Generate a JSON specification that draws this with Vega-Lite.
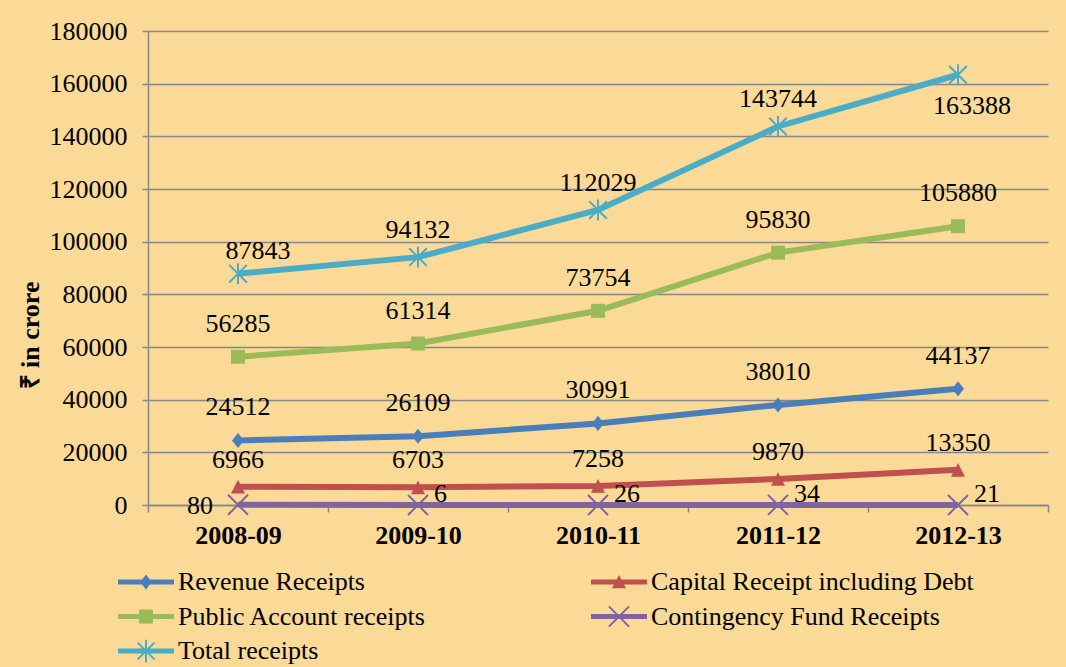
{
  "$schema": "https://vega.github.io/schema/vega-lite/v6.json",
  "width": 900,
  "height": 474,
  "autosize": "none",
  "padding": {"left": 148, "top": 31, "right": 18, "bottom": 162},
  "background": "#FADA96",
  "config": {
    "view": {"stroke": null},
    "font": "Liberation Serif",
    "text": {"font": "Liberation Serif", "fontSize": 26, "color": "#000000"}
  },
  "resolve": {"scale": {"shape": "independent", "fill": "independent"}},
  "data": {
    "values": [
      {"year": "2008-09", "series": "Revenue Receipts", "value": 24512},
      {"year": "2009-10", "series": "Revenue Receipts", "value": 26109},
      {"year": "2010-11", "series": "Revenue Receipts", "value": 30991},
      {"year": "2011-12", "series": "Revenue Receipts", "value": 38010},
      {"year": "2012-13", "series": "Revenue Receipts", "value": 44137},
      {"year": "2008-09", "series": "Capital Receipt including Debt", "value": 6966},
      {"year": "2009-10", "series": "Capital Receipt including Debt", "value": 6703},
      {"year": "2010-11", "series": "Capital Receipt including Debt", "value": 7258},
      {"year": "2011-12", "series": "Capital Receipt including Debt", "value": 9870},
      {"year": "2012-13", "series": "Capital Receipt including Debt", "value": 13350},
      {"year": "2008-09", "series": "Public Account receipts", "value": 56285},
      {"year": "2009-10", "series": "Public Account receipts", "value": 61314},
      {"year": "2010-11", "series": "Public Account receipts", "value": 73754},
      {"year": "2011-12", "series": "Public Account receipts", "value": 95830},
      {"year": "2012-13", "series": "Public Account receipts", "value": 105880},
      {"year": "2008-09", "series": "Contingency Fund Receipts", "value": 80},
      {"year": "2009-10", "series": "Contingency Fund Receipts", "value": 6},
      {"year": "2010-11", "series": "Contingency Fund Receipts", "value": 26},
      {"year": "2011-12", "series": "Contingency Fund Receipts", "value": 34},
      {"year": "2012-13", "series": "Contingency Fund Receipts", "value": 21},
      {"year": "2008-09", "series": "Total receipts", "value": 87843},
      {"year": "2009-10", "series": "Total receipts", "value": 94132},
      {"year": "2010-11", "series": "Total receipts", "value": 112029},
      {"year": "2011-12", "series": "Total receipts", "value": 143744},
      {"year": "2012-13", "series": "Total receipts", "value": 163388}
    ]
  },
  "encoding": {
    "x": {
      "field": "year",
      "type": "nominal",
      "scale": {"type": "band", "paddingInner": 0, "paddingOuter": 0},
      "axis": {
        "title": null,
        "labelAngle": 0,
        "labelFont": "Liberation Serif",
        "labelFontSize": 26,
        "labelFontWeight": "bold",
        "labelColor": "#000000",
        "labelPadding": 10,
        "tickBand": "extent",
        "tickSize": 7,
        "tickColor": "#878787",
        "tickWidth": 1.5,
        "domainColor": "#878787",
        "domainWidth": 1.5,
        "grid": false
      }
    },
    "y": {
      "field": "value",
      "type": "quantitative",
      "scale": {"domain": [0, 180000], "nice": false},
      "axis": {
        "values": [0, 20000, 40000, 60000, 80000, 100000, 120000, 140000, 160000, 180000],
        "format": "d",
        "title": "₹ in crore",
        "titleFont": "Liberation Serif",
        "titleFontSize": 26,
        "titleFontWeight": "bold",
        "titleColor": "#000000",
        "titleAngle": -90,
        "titleX": -118,
        "titleY": 304,
        "titleAlign": "center",
        "titleBaseline": "middle",
        "labelFont": "Liberation Serif",
        "labelFontSize": 26,
        "labelColor": "#000000",
        "labelPadding": 15,
        "tickSize": 6,
        "tickColor": "#878787",
        "tickWidth": 1.5,
        "domainColor": "#878787",
        "domainWidth": 1.5,
        "gridColor": "#878787",
        "gridWidth": 1.5
      }
    }
  },
  "layer": [
    {
      "mark": {"type": "line", "strokeWidth": 6},
      "encoding": {
        "color": {
          "field": "series",
          "type": "nominal",
          "scale": {
            "domain": ["Revenue Receipts", "Capital Receipt including Debt", "Public Account receipts", "Contingency Fund Receipts", "Total receipts"],
            "range": ["#4A7EBB", "#C0504D", "#9BBB59", "#8064A2", "#4BACC6"]
          },
          "legend": null
        }
      }
    },
    {
      "mark": {"type": "point", "filled": true, "opacity": 1, "size": 256, "strokeWidth": 0},
      "encoding": {
        "color": {"field": "series", "type": "nominal", "legend": null},
        "shape": {
          "field": "series",
          "type": "nominal",
          "scale": {
            "domain": ["Revenue Receipts", "Capital Receipt including Debt", "Public Account receipts", "Contingency Fund Receipts", "Total receipts"],
            "range": [
              "M0,-0.94L0.75,0L0,0.94L-0.75,0Z",
              "M0,-0.85L0.875,0.85L-0.875,0.85Z",
              "M-0.875,-0.875H0.875V0.875H-0.875Z",
              "M-1.162,-1.338L1.338,1.162L1.162,1.338L-1.338,-1.162Z M1.338,-1.162L-1.162,1.338L-1.338,1.162L1.162,-1.338Z",
              "M-1.012,-1.188L1.188,1.012L1.012,1.188L-1.188,-1.012Z M1.188,-1.012L-1.012,1.188L-1.188,1.012L1.012,-1.188Z M-0.125,-1.3H0.125V1.3H-0.125Z"
            ]
          },
          "legend": null
        }
      }
    },
    {
      "mark": {"type": "point", "filled": true, "opacity": 0, "size": 10},
      "encoding": {
        "fill": {
          "field": "series",
          "type": "nominal",
          "scale": {
            "domain": ["Revenue Receipts", "Capital Receipt including Debt", "Public Account receipts", "Contingency Fund Receipts", "Total receipts"],
            "range": ["#4A7EBB", "#C0504D", "#9BBB59", "#8064A2", "#4BACC6"]
          }
        },
        "shape": {
          "field": "series",
          "type": "nominal",
          "scale": {
            "domain": ["Revenue Receipts", "Capital Receipt including Debt", "Public Account receipts", "Contingency Fund Receipts", "Total receipts"],
            "range": [
              "M-1,-0.09H1V0.09H-1Z M0,-0.27L0.21,0L0,0.27L-0.21,0Z",
              "M-1,-0.09H1V0.09H-1Z M0,-0.25L0.25,0.22L-0.25,0.22Z",
              "M-1,-0.09H1V0.09H-1Z M-0.25,-0.25H0.25V0.25H-0.25Z",
              "M-1,-0.09H1V0.09H-1Z M-0.335,-0.385L0.385,0.335L0.335,0.385L-0.385,-0.335Z M0.385,-0.335L-0.335,0.385L-0.385,0.335L0.335,-0.385Z",
              "M-1,-0.09H1V0.09H-1Z M-0.275,-0.325L0.325,0.275L0.275,0.325L-0.325,-0.275Z M0.325,-0.275L-0.275,0.325L-0.325,0.275L0.275,-0.325Z M-0.035,-0.4H0.035V0.4H-0.035Z"
            ]
          },
          "legend": {
            "orient": "none",
            "direction": "horizontal",
            "legendX": -30,
            "legendY": 534,
            "columns": 2,
            "columnPadding": 164,
            "rowPadding": 0.5,
            "clipHeight": 34,
            "title": null,
            "symbolSize": 3136,
            "symbolOpacity": 1,
            "symbolStrokeWidth": 0,
            "symbolStrokeColor": "transparent",
            "labelOffset": 4,
            "labelFont": "Liberation Serif",
            "labelFontSize": 26,
            "labelColor": "#000000",
            "labelLimit": 500
          }
        }
      }
    },
    {
      "transform": [{"filter": "datum.series === 'Revenue Receipts' || datum.series === 'Public Account receipts'"}],
      "mark": {"type": "text", "dy": -33, "baseline": "middle", "align": "center"},
      "encoding": {"text": {"field": "value", "type": "quantitative", "format": "d"}}
    },
    {
      "transform": [{"filter": "datum.series === 'Capital Receipt including Debt'"}],
      "mark": {"type": "text", "dy": -27, "baseline": "middle", "align": "center"},
      "encoding": {"text": {"field": "value", "type": "quantitative", "format": "d"}}
    },
    {
      "transform": [{"filter": "datum.series === 'Total receipts' && datum.year !== '2012-13' && datum.year !== '2008-09'"}],
      "mark": {"type": "text", "dy": -27, "baseline": "middle", "align": "center"},
      "encoding": {"text": {"field": "value", "type": "quantitative", "format": "d"}}
    },
    {
      "transform": [{"filter": "datum.series === 'Total receipts' && datum.year === '2008-09'"}],
      "mark": {"type": "text", "dy": -23, "dx": 20, "baseline": "middle", "align": "center"},
      "encoding": {"text": {"field": "value", "type": "quantitative", "format": "d"}}
    },
    {
      "transform": [{"filter": "datum.series === 'Total receipts' && datum.year === '2012-13'"}],
      "mark": {"type": "text", "dy": 31, "dx": 14, "baseline": "middle", "align": "center"},
      "encoding": {"text": {"field": "value", "type": "quantitative", "format": "d"}}
    },
    {
      "transform": [{"filter": "datum.series === 'Contingency Fund Receipts' && datum.year === '2008-09'"}],
      "mark": {"type": "text", "dx": -25, "dy": 1, "baseline": "middle", "align": "right"},
      "encoding": {"text": {"field": "value", "type": "quantitative", "format": "d"}}
    },
    {
      "transform": [{"filter": "datum.series === 'Contingency Fund Receipts' && datum.year !== '2008-09'"}],
      "mark": {"type": "text", "dx": 16, "dy": -11, "baseline": "middle", "align": "left"},
      "encoding": {"text": {"field": "value", "type": "quantitative", "format": "d"}}
    }
  ]
}
